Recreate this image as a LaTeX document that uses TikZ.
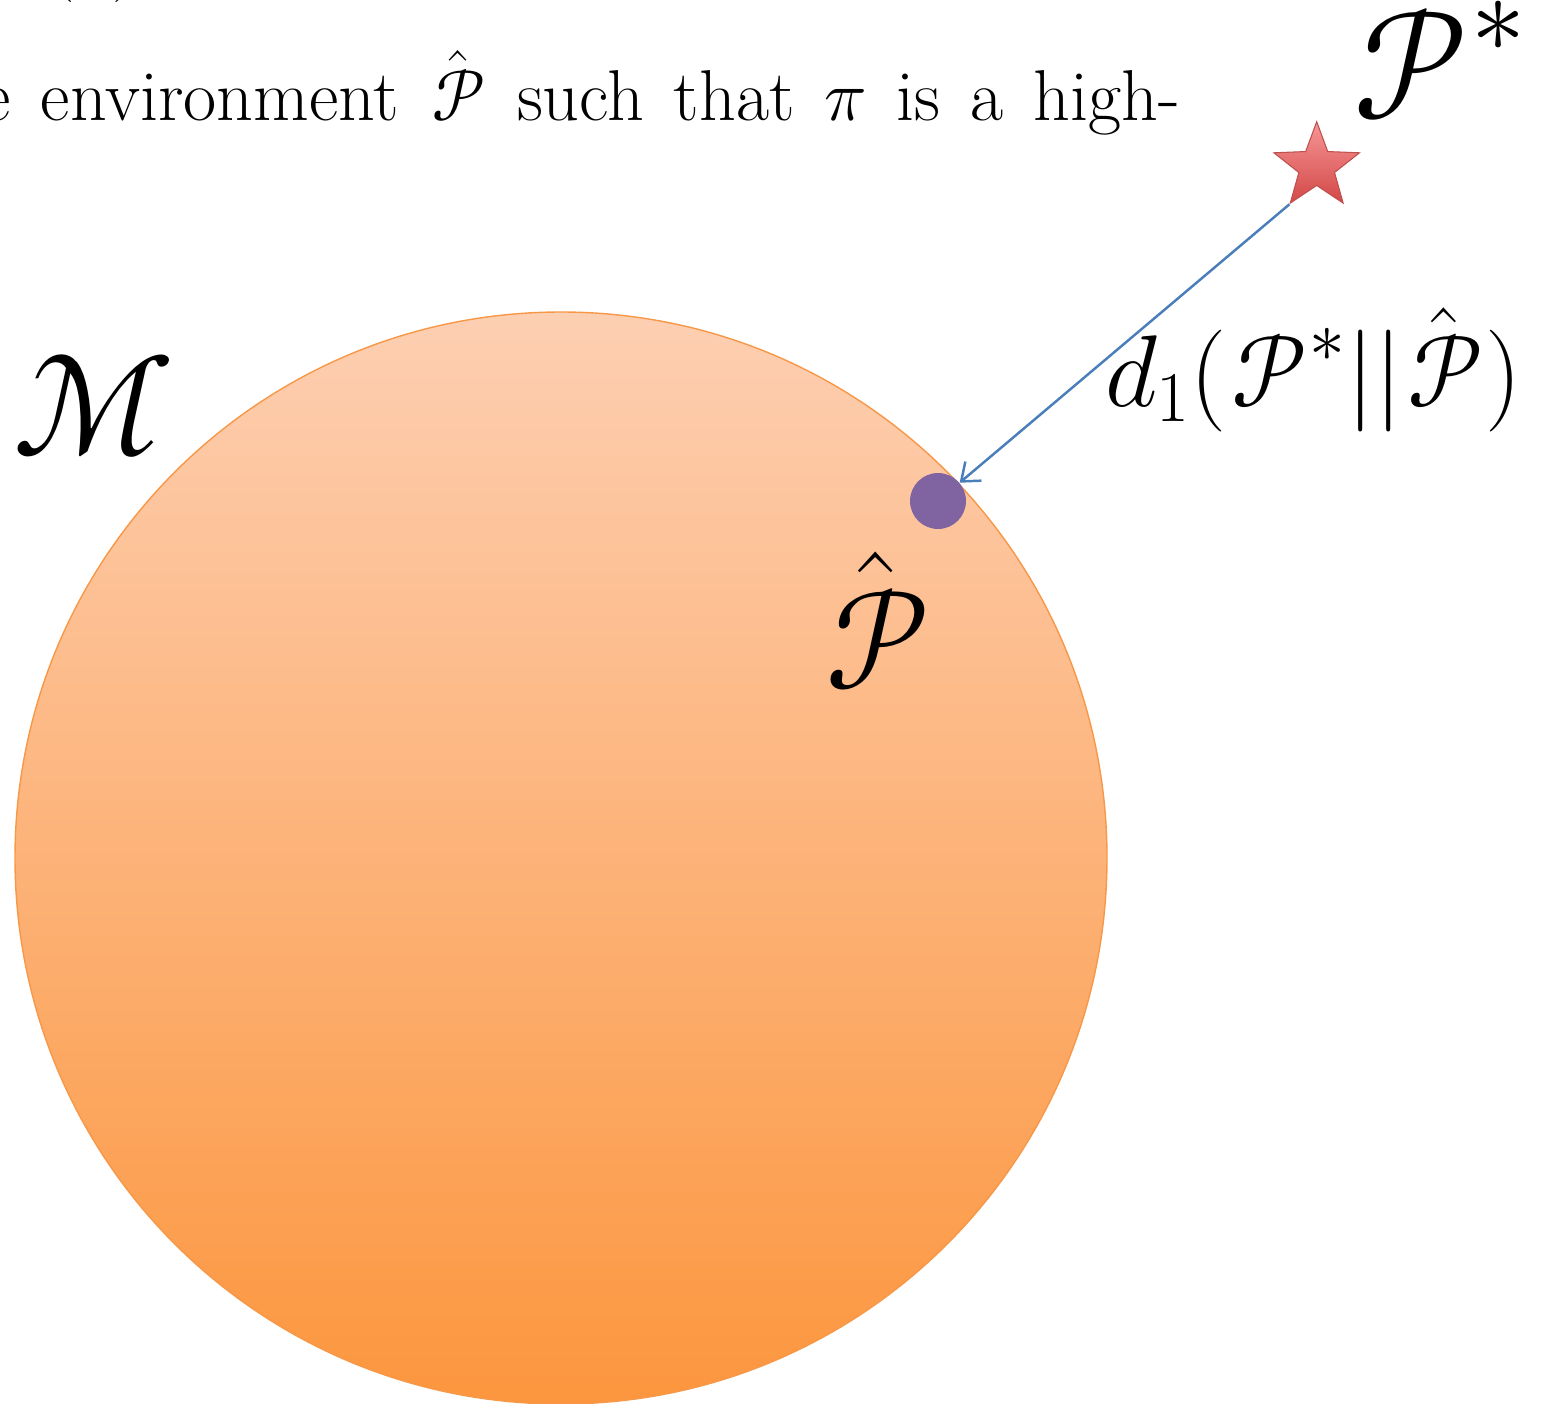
\RequirePackage{fix-cm}
\documentclass[tikz,border=0pt]{standalone}
\usepackage[mathcal]{eucal}
\DeclareFontFamily{U}{eus}{\skewchar\font'60}
\DeclareFontShape{U}{eus}{m}{n}{<-6>eusm5<6-8>eusm7<8->eusm10}{}
\DeclareFontShape{U}{eus}{b}{n}{<-6>eusb5<6-8>eusb7<8->eusb10}{}
\usetikzlibrary{shapes.geometric,arrows.meta}
\definecolor{peachtop}{RGB}{253,207,178}
\definecolor{peachbot}{RGB}{252,150,62}
\definecolor{peachedge}{RGB}{247,152,72}
\definecolor{dotpurple}{RGB}{128,100,162}
\definecolor{startop}{RGB}{246,150,150}
\definecolor{starbot}{RGB}{212,72,72}
\definecolor{staredge}{RGB}{190,80,77}
\definecolor{arrowblue}{RGB}{74,126,187}
\newcommand{\slcal}[1]{\mathord{\tikz[baseline=(glyph.base)]\node[inner sep=0pt, outer sep=0pt, xslant=0.22](glyph){$\mathcal{#1}$};}}
\tikzset{
  biglabel/.style={inner sep=0pt, outer sep=0pt, font=\fontsize{88}{96}\selectfont},
  mlabel/.style={inner sep=0pt, outer sep=0pt, font=\fontsize{82}{90}\selectfont},
  hatlabel/.style={inner sep=0pt, outer sep=0pt, font=\fontsize{80}{90}\selectfont},
  midlabel/.style={inner sep=0pt, outer sep=0pt, font=\fontsize{58}{66}\selectfont},
  bodytext/.style={inner sep=0pt, outer sep=0pt, font=\fontsize{41}{48}\selectfont},
  conn/.style={draw=arrowblue, line width=1.4pt, -{Straight Barb[length=0.32cm,width=0.5cm,line width=1.4pt]}},
}
\begin{document}
\begin{tikzpicture}[x=0.02cm,y=-0.02cm]
\useasboundingbox (0,0) rectangle (1553,1404);
\clip (0,0) rectangle (1553,1404);
% region M
\shade[top color=peachtop, bottom color=peachbot, draw=peachedge, line width=0.8pt] (561,858) circle (546);
% top text fragments
\node[bodytext, anchor=base west] (prev) at (50,-16) {(\hspace{0.75cm})};
\node[bodytext, anchor=base west] (line) at (-18,120) {\makebox[23.96cm][s]{e environment $\hat{\slcal{P}}$ such that $\pi$ is a high-}};
% star P*
\node[star, star points=5, star point ratio=2.4, minimum size=1.8cm, inner sep=0pt,
      top color=startop, bottom color=starbot, draw=staredge, line width=0.6pt] (star) at (1316.7,166.7) {};
% estimated point
\node[circle, fill=dotpurple, minimum size=1.12cm, inner sep=0pt] (dot) at (938,501) {};
% connector
\draw[conn] (star.outer point 3) -- (dot);
% labels
\node[biglabel, anchor=base west] (pstar) at (1345,118) {$\slcal{P}^*$};
\node[mlabel, anchor=base west] (mlab) at (12,455) {$\slcal{M}$};
\node[hatlabel, anchor=base west] (phat) at (818,688) {$\hat{\slcal{P}}$};
\node[midlabel, anchor=base west] (dlab) at (1105,406) {$d_1(\slcal{P}^*||\hat{\slcal{P}})$};
\end{tikzpicture}
\end{document}
